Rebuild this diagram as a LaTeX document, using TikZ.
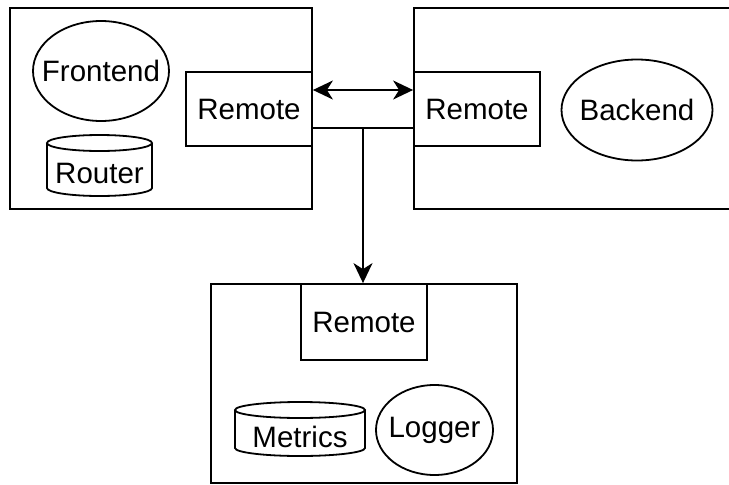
\documentclass[tikz,border=0pt]{standalone}
\usepackage{fontspec}
\setmainfont{Liberation Sans}
\usetikzlibrary{arrows.meta,shapes.geometric}

\tikzset{
  host/.style={draw, rectangle, inner sep=0pt},
  remote/.style={draw, rectangle, fill=white, minimum width=126pt, minimum height=74pt, inner sep=0pt},
  service/.style={draw, ellipse, inner xsep=-16pt, inner ysep=0pt},
  tip/.tip={Stealth[length=20pt, width=19pt, inset=6pt]},
}

\NewDocumentCommand{\dbcell}{mmmmmO{}}{%
\begin{scope}[shift={(#2,#3)}]%
\draw ({#4/2},8) ellipse[x radius={#4/2}, y radius=8];
\draw (0,8) -- (0,{#5-8}) arc[start angle=180, end angle=0, x radius={#4/2}, y radius=8] -- (#4,8);
\node (#1) at ({#4/2},{(#5+16)/2}) {#6};
\end{scope}%
}

\begin{document}
\begin{tikzpicture}[x=1pt, y=-1pt, line width=1.8pt, font=\fontsize{29.5pt}{33pt}\selectfont]
    \clip (0,0) rectangle (729,485);

    \node[host, minimum width=302pt, minimum height=201pt] (frontbox) at (161,108.5) {};
    \node[host, minimum width=326pt, minimum height=201pt] (backbox) at (577,108.5) {};
    \node[host, minimum width=306pt, minimum height=199pt] (logbox) at (364,383.5) {};

    \node[remote] (frontremote) at (249,109) {Remote};
    \node[remote] (backremote) at (477,109) {Remote};
    \node[remote, minimum height=76pt] (logremote) at (364,322) {Remote};

    \node[service, minimum width=136pt, minimum height=100pt] (frontend) at (101,71) {Frontend};
    \node[service, minimum width=151pt, minimum height=101pt] (backend) at (637,110) {Backend};
    \node[service, minimum width=117pt, minimum height=90pt] (logger) at (434.5,430) {Logger};
    \dbcell{router}{47}{135}{105}{61}[Router]
    \dbcell{metrics}{235}{402}{130}{54}[Metrics]

    \draw[tip-tip] ([yshift=19pt]frontremote.east) -- ([yshift=19pt]backremote.west);
    \draw ([yshift=-19pt]frontremote.east) -- coordinate[midway] (split) ([yshift=-19pt]backremote.west);
    \draw[-tip] (split) -- (split |- logremote.north);
\end{tikzpicture}
\end{document}
